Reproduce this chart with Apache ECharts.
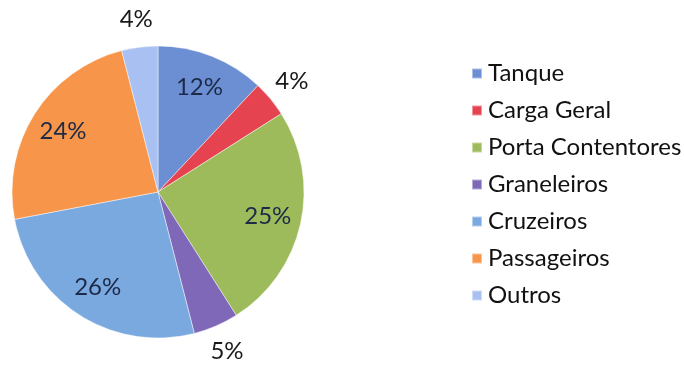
<!DOCTYPE html>
<html>
<head>
<meta charset="utf-8">
<script src="https://cdn.jsdelivr.net/npm/echarts@6/dist/echarts.min.js"></script>
<style>
  html, body { margin: 0; padding: 0; background: #ffffff; }
  #chart { width: 684px; height: 365px; }
</style>
</head>
<body>
<div id="chart"></div>
<script>
// Ship types and their share of port calls (%)
const categories = ['Tanque', 'Carga Geral', 'Porta Contentores', 'Graneleiros', 'Cruzeiros', 'Passageiros', 'Outros'];
const shares = [12, 4, 25, 5, 26, 24, 4];
const colors = ['#6b8fd2', '#e5434f', '#9dbb5b', '#8068b8', '#7aa9e0', '#f7964a', '#a9c0f2'];
// Small slices get their label outside the pie
const outsideLabel = [false, true, false, true, false, false, true];

const FONT = 'Lato, "Open Sans", sans-serif';
const CENTER = [158, 192];
const R = 146;

function labelData(showOutside) {
  return categories.map((name, i) => ({
    name,
    value: shares[i],
    label: { show: outsideLabel[i] === showOutside }
  }));
}

const labelStyle = (color) => ({
  position: 'inside',
  formatter: (p) => p.value + '%',
  fontFamily: FONT,
  fontSize: 24,
  color
});

const chart = echarts.init(document.getElementById('chart'), null, { renderer: 'canvas' });
chart.setOption({
  animation: false,
  legend: {
    orient: 'vertical',
    left: 466,
    top: 55,
    itemWidth: 10,
    itemHeight: 10,
    itemGap: 10,
    icon: 'rect',
    data: categories,
    textStyle: { fontFamily: FONT, fontSize: 24, color: '#111111', lineHeight: 27, padding: [0, 0, 0, 1] }
  },
  series: [
    {
      type: 'pie',
      center: CENTER,
      radius: [0, R],
      startAngle: 90,
      clockwise: true,
      silent: true,
      label: { show: false },
      labelLine: { show: false },
      itemStyle: { borderColor: 'rgba(255,255,255,0.45)', borderWidth: 1 },
      data: categories.map((name, i) => ({ name, value: shares[i], itemStyle: { color: colors[i] } }))
    },
    {
      // inner labels, placed at about three quarters of the radius
      type: 'pie',
      center: CENTER,
      radius: [0, R * 1.5],
      startAngle: 90,
      silent: true,
      itemStyle: { color: 'transparent' },
      label: labelStyle('#1c2a47'),
      labelLine: { show: false },
      data: labelData(false)
    },
    {
      // outer labels for the narrow slices
      type: 'pie',
      center: CENTER,
      radius: [0, R * 2.34],
      startAngle: 90,
      silent: true,
      itemStyle: { color: 'transparent' },
      label: labelStyle('#1a1a1a'),
      labelLine: { show: false },
      data: labelData(true)
    }
  ]
});
</script>
</body>
</html>
